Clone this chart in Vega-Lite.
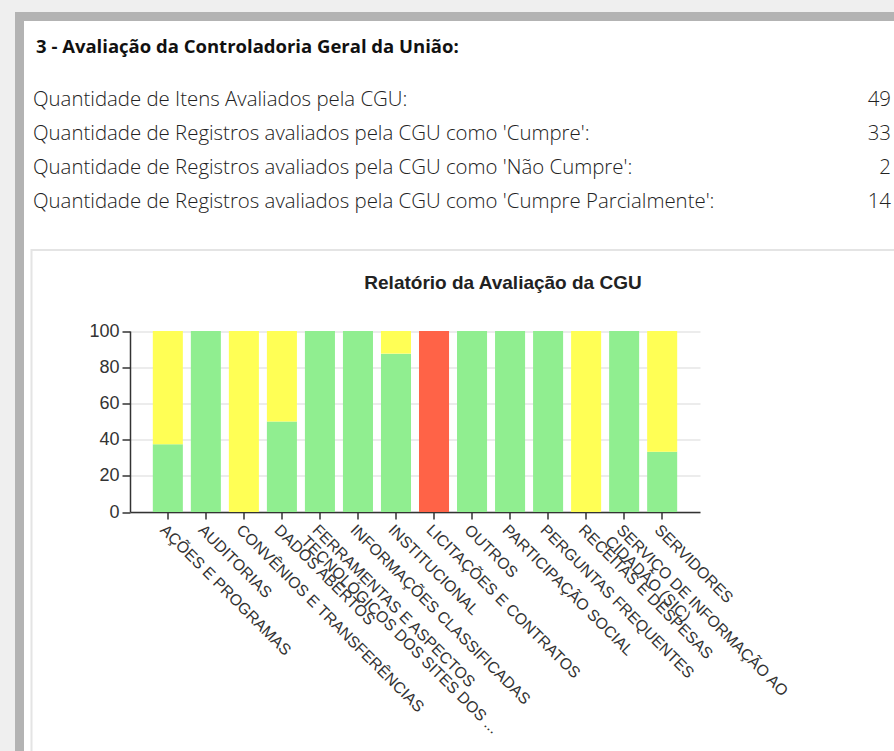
{
  "$schema": "https://vega.github.io/schema/vega-lite/v6.json",
  "autosize": {"type": "none"},
  "width": 874.5,
  "height": 734.5,
  "padding": {"left": 19.5, "top": 16.5, "right": 0, "bottom": 0},
  "background": "#efefef",
  "view": {"fill": "#ffffff", "stroke": "#b3b3b3", "strokeWidth": 9, "strokeDash": [874.5, 1609, 734.5, 0], "strokeCap": "square"},
  "resolve": {
    "scale": {"x": "independent", "y": "independent", "color": "independent"},
    "axis": {"x": "independent", "y": "independent"}
  },
  "layer": [
    {
      "data": {"values": [{"caixa": "grafico"}]},
      "mark": {"type": "rect", "fill": null, "stroke": "#e4e4e4", "strokeWidth": 2},
      "encoding": {
        "x": {"datum": 0, "type": "quantitative", "scale": {"domain": [0, 1], "range": [12, 900]}, "axis": null},
        "x2": {"datum": 1},
        "y": {"datum": 0, "type": "quantitative", "scale": {"domain": [0, 1], "range": [233.5, 760]}, "axis": null},
        "y2": {"datum": 1}
      }
    },
    {
      "data": {"values": [{"texto": "3 - Avaliação da Controladoria Geral da União:"}]},
      "mark": {"type": "text", "align": "left", "baseline": "middle", "font": "Open Sans", "fontWeight": "bold", "fontSize": 18.5, "color": "#111111"},
      "encoding": {
        "x": {"datum": 0, "type": "quantitative", "scale": {"domain": [0, 1], "range": [16.5, 870.5]}, "axis": null},
        "y": {"datum": 0, "type": "quantitative", "scale": {"domain": [0, 1], "range": [30.5, 100]}, "axis": null},
        "text": {"field": "texto"}
      }
    },
    {
      "data": {
        "values": [
          {"linha": 1, "texto": "Quantidade de Itens Avaliados pela CGU:", "valor": 49},
          {"linha": 2, "texto": "Quantidade de Registros avaliados pela CGU como 'Cumpre':", "valor": 33},
          {"linha": 3, "texto": "Quantidade de Registros avaliados pela CGU como 'Não Cumpre':", "valor": 2},
          {"linha": 4, "texto": "Quantidade de Registros avaliados pela CGU como 'Cumpre Parcialmente':", "valor": 14}
        ]
      },
      "layer": [
        {
          "mark": {"type": "text", "align": "left", "baseline": "middle", "font": "Open Sans", "fontWeight": 300, "fontSize": 20.4, "color": "#222222"},
          "encoding": {
            "x": {"datum": 0, "type": "quantitative", "scale": {"domain": [0, 1], "range": [13.5, 871.5]}, "axis": null},
            "y": {"field": "linha", "type": "quantitative", "scale": {"domain": [1, 4], "range": [83.5, 185]}, "axis": null},
            "text": {"field": "texto"}
          }
        },
        {
          "mark": {"type": "text", "align": "right", "baseline": "middle", "font": "Open Sans", "fontWeight": 300, "fontSize": 20.4, "color": "#222222"},
          "encoding": {
            "x": {"datum": 1, "type": "quantitative", "scale": {"domain": [0, 1], "range": [13.5, 871.5]}, "axis": null},
            "y": {"field": "linha", "type": "quantitative", "scale": {"domain": [1, 4], "range": [83.5, 185]}, "axis": null},
            "text": {"field": "valor"}
          }
        }
      ]
    },
    {
      "data": {"values": [{"titulo": "Relatório da Avaliação da CGU"}]},
      "mark": {"type": "text", "align": "center", "baseline": "middle", "font": "Liberation Sans", "fontWeight": "bold", "fontSize": 19, "color": "#222222"},
      "encoding": {
        "x": {"datum": 0.5, "type": "quantitative", "scale": {"domain": [0, 1], "range": [110.5, 856.5]}, "axis": null},
        "y": {"datum": 0, "type": "quantitative", "scale": {"domain": [0, 1], "range": [266.5, 300]}, "axis": null},
        "text": {"field": "titulo"}
      }
    },
    {
      "data": {
        "values": [
          {"categoria": "AÇÕES E PROGRAMAS", "status": "Cumpre", "pct": 37.5},
          {"categoria": "AÇÕES E PROGRAMAS", "status": "Cumpre Parcialmente", "pct": 62.5},
          {"categoria": "AUDITORIAS", "status": "Cumpre", "pct": 100},
          {"categoria": "CONVÊNIOS E TRANSFERÊNCIAS", "status": "Cumpre Parcialmente", "pct": 100},
          {"categoria": "DADOS ABERTOS", "status": "Cumpre", "pct": 50},
          {"categoria": "DADOS ABERTOS", "status": "Cumpre Parcialmente", "pct": 50},
          {"categoria": "FERRAMENTAS E ASPECTOS|TECNOLÓGICOS DOS SITES DOS ...", "status": "Cumpre", "pct": 100},
          {"categoria": "INFORMAÇÕES CLASSIFICADAS", "status": "Cumpre", "pct": 100},
          {"categoria": "INSTITUCIONAL", "status": "Cumpre", "pct": 87.5},
          {"categoria": "INSTITUCIONAL", "status": "Cumpre Parcialmente", "pct": 12.5},
          {"categoria": "LICITAÇÕES E CONTRATOS", "status": "Não Cumpre", "pct": 100},
          {"categoria": "OUTROS", "status": "Cumpre", "pct": 100},
          {"categoria": "PARTICIPAÇÃO SOCIAL", "status": "Cumpre", "pct": 100},
          {"categoria": "PERGUNTAS FREQUENTES", "status": "Cumpre", "pct": 100},
          {"categoria": "RECEITAS E DESPESAS", "status": "Cumpre Parcialmente", "pct": 100},
          {"categoria": "SERVIÇO DE INFORMAÇÃO AO|CIDADÃO (SIC)", "status": "Cumpre", "pct": 100},
          {"categoria": "SERVIDORES", "status": "Cumpre", "pct": 33.33},
          {"categoria": "SERVIDORES", "status": "Cumpre Parcialmente", "pct": 66.67}
        ]
      },
      "mark": {"type": "bar"},
      "encoding": {
        "x": {
          "field": "categoria", "type": "nominal", "sort": null,
          "scale": {"range": [110.5, 680.5], "paddingInner": 0.21, "paddingOuter": 0.6},
          "axis": {
            "title": null, "offset": -239,
            "labelAngle": 45, "labelAlign": "left", "labelBaseline": "top",
            "labelFont": "Liberation Sans", "labelFontSize": 15.8, "labelColor": "#333333",
            "labelLimit": 0, "labelOverlap": false, "labelLineHeight": 16, "labelPadding": 3,
            "labelExpr": "split(datum.label, '|')",
            "tickSize": 7, "tickColor": "#333333", "tickWidth": 1.5,
            "domainColor": "#333333", "domainWidth": 1.5, "grid": false
          }
        },
        "y": {
          "field": "pct", "type": "quantitative", "stack": "zero",
          "scale": {"domain": [0, 100], "range": [495.5, 314.5], "nice": false},
          "axis": {
            "title": null, "offset": -110.5, "values": [0, 20, 40, 60, 80, 100],
            "labelFont": "Liberation Sans", "labelFontSize": 18, "labelColor": "#333333", "labelPadding": 3,
            "tickSize": 8, "tickColor": "#333333", "tickWidth": 1.5,
            "domainColor": "#333333", "domainWidth": 1.5,
            "grid": true, "gridColor": "#e6e6e6", "gridWidth": 1.5
          }
        },
        "color": {
          "field": "status", "type": "nominal",
          "scale": {"domain": ["Cumpre", "Cumpre Parcialmente", "Não Cumpre"], "range": ["#90ee90", "#ffff55", "#ff6347"]},
          "legend": null
        },
        "order": {"field": "status", "type": "ordinal", "sort": "ascending"}
      }
    }
  ]
}
